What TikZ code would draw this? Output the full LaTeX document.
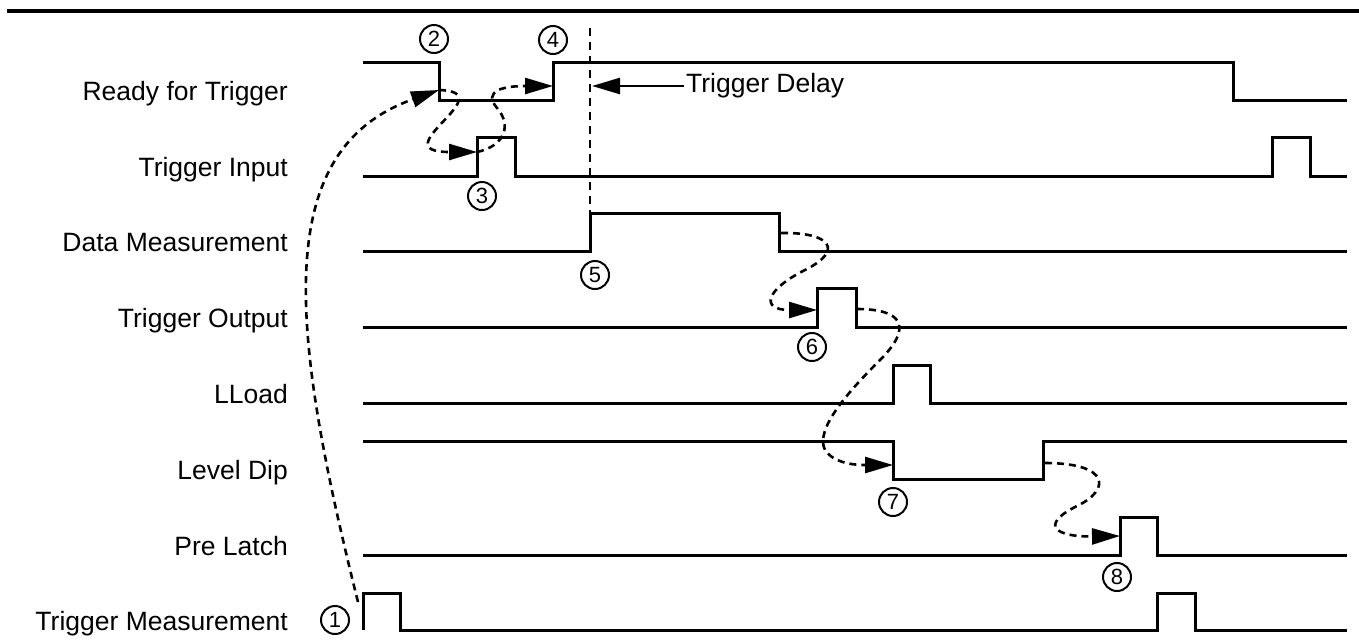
\documentclass[tikz,border=0pt]{standalone}
\usepackage{fontspec}
\setmainfont{Liberation Sans}
\usetikzlibrary{arrows.meta}
\tikzset{>=latex}
\tikzset{
  sig/.style={line width=3pt},
  flow/.style={line width=2.6pt, dash pattern=on 7pt off 5pt, -{Triangle[length=28pt,width=16pt]}},
  lbl/.style={anchor=base east, inner sep=0pt, font=\fontsize{26.5}{30}\selectfont},
  num/.style={circle, draw, line width=2pt, minimum size=28pt, inner sep=0pt, font=\fontsize{22}{24}\selectfont}
}

\begin{document}
\begin{tikzpicture}[x=1pt,y=-1pt]
    \useasboundingbox (0,0) rectangle (1359,641);

    % Rule across the top
    \draw[line width=4pt] (7,11) -- (1359,11);

    % Signal names
    \foreach \txt/\yb [count=\i] in {Ready for Trigger/100, Trigger Input/176, Data Measurement/251, Trigger Output/327, LLoad/403, Level Dip/479, Pre Latch/555, Trigger Measurement/630}
        \node[lbl] (lab\i) at (288,\yb) {\txt};

    % Draw the signals
    \draw[sig] (363,62) -- (439,62) -- (439,100) -- (553,100) -- (553,62) -- (1233,62) -- (1233,100) -- (1347,100);
    \draw[sig] (363,176) -- (477,176) -- (477,137) -- (515,137) -- (515,176) -- (1272,176) -- (1272,137) -- (1310,137) -- (1310,176) -- (1347,176);
    \draw[sig] (363,251) -- (590,251) -- (590,213) -- (779,213) -- (779,251) -- (1347,251);
    \draw[sig] (363,327) -- (817,327) -- (817,288) -- (856,288) -- (856,327) -- (1347,327);
    \draw[sig] (363,403) -- (893,403) -- (893,365) -- (930,365) -- (930,403) -- (1347,403);
    \draw[sig] (363,441) -- (893,441) -- (893,479) -- (1043,479) -- (1043,441) -- (1347,441);
    \draw[sig] (363,555) -- (1120,555) -- (1120,517) -- (1157,517) -- (1157,555) -- (1347,555);
    \draw[sig] (363,630) -- (363,593) -- (400,593) -- (400,630) -- (1157,630) -- (1157,593) -- (1195,593) -- (1195,630) -- (1347,630);

    % Define coordinates on the edges
    \coordinate (tm) at (358,602);
    \coordinate (rf) at (439,90);
    \coordinate (ti) at (477,152);
    \coordinate (rr) at (553,86);
    \coordinate (df) at (781,233);
    \coordinate (or) at (817,310);
    \coordinate (of) at (857,309);
    \coordinate (lf) at (893,465);
    \coordinate (lr) at (1045,463);
    \coordinate (pr) at (1120,536);
    \coordinate (dtop) at (590,28);
    \coordinate (drise) at (590,213);
    \coordinate (dtip) at (592,86);

    % Trigger delay marker
    \draw[line width=2.4pt, dash pattern=on 8pt off 6pt] (dtop) -- (drise);
    \node[anchor=west, inner sep=2pt, font=\fontsize{26.5}{30}\selectfont] (dly) at (684,86) {Trigger Delay};
    \draw[-{Triangle[length=28pt,width=16pt]}, line width=2.6pt] (dly.west) -- (dtip);

    % Sequence of events
    \draw[flow] (tm) .. controls (290,330) and (270,150) .. (rf);
    \draw[flow] (rf) .. controls (505,92) and (380,152) .. (ti);
    \draw[flow] (ti) .. controls (505,146) and (512,125) .. (497,108) .. controls (482,90) and (505,86) .. (rr);
    \draw[flow] (df) .. controls (830,232) and (845,250) .. (805,270) .. controls (765,290) and (760,310) .. (or);
    \draw[flow] (of) .. controls (900,309) and (915,325) .. (880,360) .. controls (845,395) and (815,430) .. (825,450) .. controls (835,465) and (860,465) .. (lf);
    \draw[flow] (lr) .. controls (1110,463) and (1112,490) .. (1075,507) .. controls (1040,525) and (1055,537) .. (pr);

    % Step numbers
    \foreach \n/\px/\py in {1/335/620, 2/434/39, 3/482/196, 4/553/40, 5/595/275, 6/812/347, 7/893/502, 8/1117/577}
        \node[num] (n\n) at (\px,\py) {\n};
\end{tikzpicture}
\end{document}
